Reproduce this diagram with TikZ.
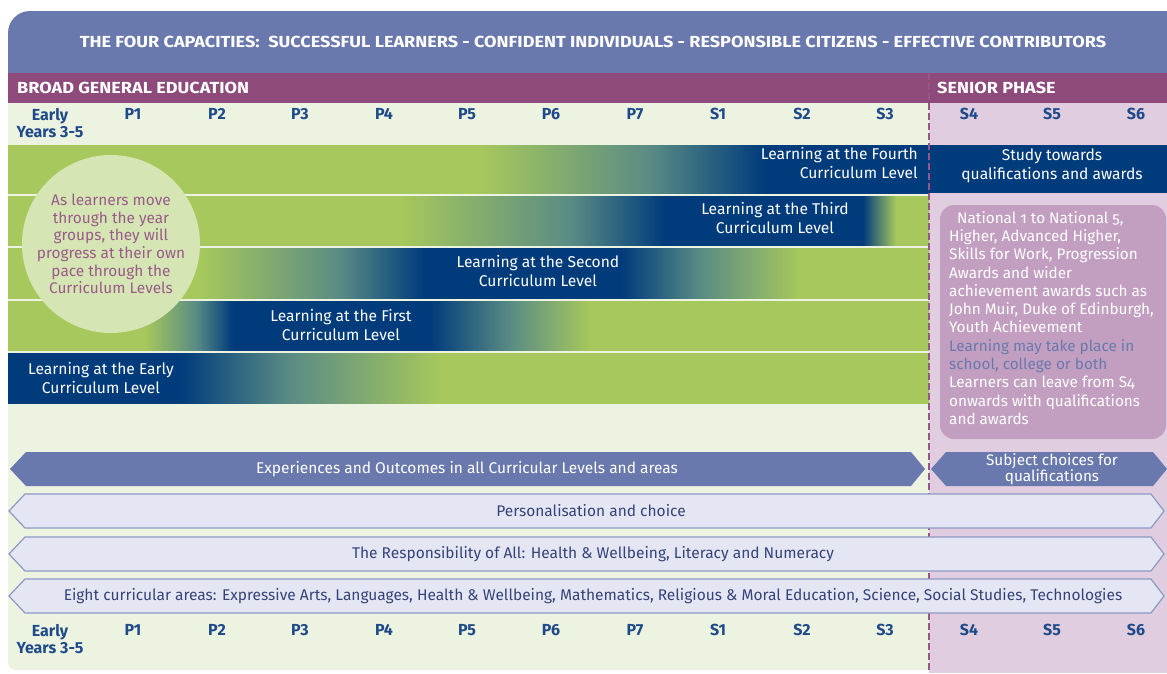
\documentclass[tikz,border=0pt]{standalone}
\usepackage{fontspec}
\setmainfont{Fira Sans}
\newfontfamily\oldfig[Numbers=OldStyle]{Fira Sans}
\newfontfamily\headfont[FakeStretch=1.13]{Fira Sans}
\definecolor{banner}{HTML}{6A79AD}
\definecolor{bgepurple}{HTML}{8E4A7B}
\definecolor{bggreen}{HTML}{EDF3E1}
\definecolor{bgpink}{HTML}{E1CDE0}
\definecolor{lgreen}{HTML}{A7C85C}
\definecolor{dblue}{HTML}{003B7C}
\definecolor{teal1}{HTML}{5A8C84}
\definecolor{circfill}{HTML}{D5E6B4}
\definecolor{circtext}{HTML}{9A5B8A}
\definecolor{pinkbox}{HTML}{C29FC0}
\definecolor{yrblue}{HTML}{1F4A8A}
\definecolor{barfill}{HTML}{E4E7F3}
\definecolor{barline}{HTML}{8E98C4}
\definecolor{bartext}{HTML}{364379}
\definecolor{dashcol}{HTML}{9A5588}
% band shadings: band x 8..929 maps to 25bp..75bp
\pgfdeclarehorizontalshading{bandfourth}{100bp}{color(0bp)=(lgreen); color(50.6bp)=(lgreen); color(59.8bp)=(teal1); color(66.1bp)=(dblue); color(100bp)=(dblue)}
\pgfdeclarehorizontalshading{bandthird}{100bp}{color(0bp)=(lgreen); color(46.3bp)=(lgreen); color(55.5bp)=(teal1); color(60.7bp)=(dblue); color(71.4bp)=(dblue); color(73.2bp)=(lgreen); color(100bp)=(lgreen)}
\pgfdeclarehorizontalshading{bandsecond}{100bp}{color(0bp)=(lgreen); color(35.4bp)=(lgreen); color(43.0bp)=(teal1); color(47.6bp)=(dblue); color(58.3bp)=(dblue); color(62.6bp)=(teal1); color(68.0bp)=(lgreen); color(100bp)=(lgreen)}
\pgfdeclarehorizontalshading{bandfirst}{100bp}{color(0bp)=(lgreen); color(32.4bp)=(lgreen); color(35.2bp)=(teal1); color(37.2bp)=(dblue); color(47.9bp)=(dblue); color(52.3bp)=(teal1); color(56.6bp)=(lgreen); color(100bp)=(lgreen)}
\pgfdeclarehorizontalshading{bandearly}{100bp}{color(0bp)=(dblue); color(34.3bp)=(dblue); color(40.3bp)=(teal1); color(48.5bp)=(lgreen); color(100bp)=(lgreen)}
\tikzset{
  yr/.style={font=\bfseries\fontsize{16}{17.5}\selectfont, text=yrblue, align=center, anchor=north, inner sep=0pt},
  head/.style={font=\headfont\bfseries\fontsize{16}{18}\selectfont, text=white, inner sep=0pt},
  bandtxt/.style={font=\fontsize{15.6}{19}\selectfont, text=white, inner sep=0pt},
  bar/.style={fill=barfill, draw=barline, line width=1.2pt},
  darkbar/.style={fill=banner},
  bartxt/.style={font=\fontsize{15.5}{17}\selectfont, text=bartext, inner sep=0pt},
  dashline/.style={draw=dashcol, line width=1.5pt, dash pattern=on 7pt off 3pt},
}
\begin{document}
\begin{tikzpicture}[x=1pt,y=-1pt]
\useasboundingbox (0,0) rectangle (1167,673);
% banner
\fill[banner, rounded corners=22pt] (8,11) rectangle (1167,110);
\fill[banner] (1100,11) rectangle (1167,60);
\node[head] (capac) at (593,42) {THE FOUR CAPACITIES:\ \ SUCCESSFUL LEARNERS - CONFIDENT INDIVIDUALS - RESPONSIBLE CITIZENS - EFFECTIVE CONTRIBUTORS};
% backgrounds
\fill[bggreen, rounded corners=8pt] (8,90) rectangle (945,670);
\fill[bgpink] (929,103) rectangle (1167,673);
\fill[bgepurple] (8,73) rectangle (1167,103);
\node[head, anchor=west] (bge) at (17,88) {BROAD GENERAL EDUCATION};
\node[head, anchor=west] (senior) at (937,88) {SENIOR PHASE};
% year labels
\node[yr] (tEarly) at (50,108) {Early\\Years 3-5};
\node[yr] (bEarly) at (50,624) {Early\\Years 3-5};
\foreach \lab/\xx in {P1/133,P2/217,P3/300,P4/384,P5/467,P6/551,P7/635,S1/718,S2/802,S3/885,S4/969,S5/1052,S6/1136}{
  \node[yr] (t\lab) at (\xx,108) {\lab};
  \node[yr] (b\lab) at (\xx,624) {\lab};
}
% bands
\shade[shading=bandfourth] (8,145) rectangle (929,193);
\shade[shading=bandthird] (8,196) rectangle (929,245);
\shade[shading=bandsecond] (8,248) rectangle (929,298);
\shade[shading=bandfirst] (8,301) rectangle (929,350);
\shade[shading=bandearly] (8,353) rectangle (929,403);
% band texts
\node[bandtxt, align=right, anchor=north east] (fourth) at (918,147) {Learning at the Fourth\\Curriculum Level};
\node[bandtxt, align=center] (third) at (775,218) {Learning at the Third\\Curriculum Level};
\node[bandtxt, align=center] (second) at (538,271) {Learning at the Second\\Curriculum Level};
\node[bandtxt, align=center] (first) at (341,325) {Learning at the First\\Curriculum Level};
\node[bandtxt, align=center] (early) at (101,378) {Learning at the Early\\Curriculum Level};
% senior study box
\fill[dblue] (929,145) rectangle (1167,193);
\node[bandtxt, align=center] (study) at (1052,166) {Study towards\\qualifications and awards};
% circle
\node[circle, fill=circfill, minimum size=178pt, inner sep=0pt] (circ) at (111,244) {};
\node[font=\fontsize{15.4}{17.6}\selectfont, text=circtext, align=center, inner sep=0pt] (circtxt) at (111,244) {As learners move\\through the year\\groups, they will\\progress at their own\\pace through the\\Curriculum Levels};
% pink box
\fill[pinkbox, rounded corners=14pt] (940,205) rectangle (1166,439);
\node[font=\fontsize{15.3}{18.3}\selectfont\oldfig, text=white, align=left, anchor=north west, inner sep=0pt] (quals) at (949,211) {\hspace{8pt}National 1 to National 5,\\Higher, Advanced Higher,\\Skills for Work, Progression\\Awards and wider\\achievement awards such as\\John Muir, Duke of Edinburgh,\\Youth Achievement\\\textcolor{banner}{Learning may take place in}\\\textcolor{banner}{school, college or both}\\Learners can leave from S4\\onwards with qualifications\\and awards};
% dashed divider
\draw[dashline] (929,73) -- (929,673);
% dark arrows
\fill[darkbar] (10,469) -- (26,452) -- (911,452) -- (925,469) -- (911,486) -- (26,486) -- cycle;
\node[bartxt, text=white] (expo) at (467,469) {Experiences and Outcomes in all Curricular Levels and areas};
\fill[darkbar] (931,469) -- (946,452) -- (1153,452) -- (1167,469) -- (1153,486) -- (946,486) -- cycle;
\node[font=\fontsize{15.3}{15}\selectfont, text=white, align=center, inner sep=0pt] (subj) at (1052,469) {Subject choices for\\qualifications};
% light arrows
\path[bar] (9,511) -- (25,494) -- (1151,494) -- (1164,511) -- (1151,528) -- (25,528) -- cycle;
\node[bartxt] (pers) at (591,511) {Personalisation and choice};
\path[bar] (9,554) -- (25,537) -- (1151,537) -- (1164,554) -- (1151,571) -- (25,571) -- cycle;
\node[bartxt] (resp) at (593,554) {The Responsibility of All: Health \& Wellbeing, Literacy and Numeracy};
\path[bar] (9,596) -- (25,579) -- (1151,579) -- (1164,596) -- (1151,613) -- (25,613) -- cycle;
\node[bartxt] (eight) at (593,596) {Eight curricular areas: Expressive Arts, Languages, Health \& Wellbeing, Mathematics, Religious \& Moral Education, Science, Social Studies, Technologies};
\end{tikzpicture}
\end{document}
